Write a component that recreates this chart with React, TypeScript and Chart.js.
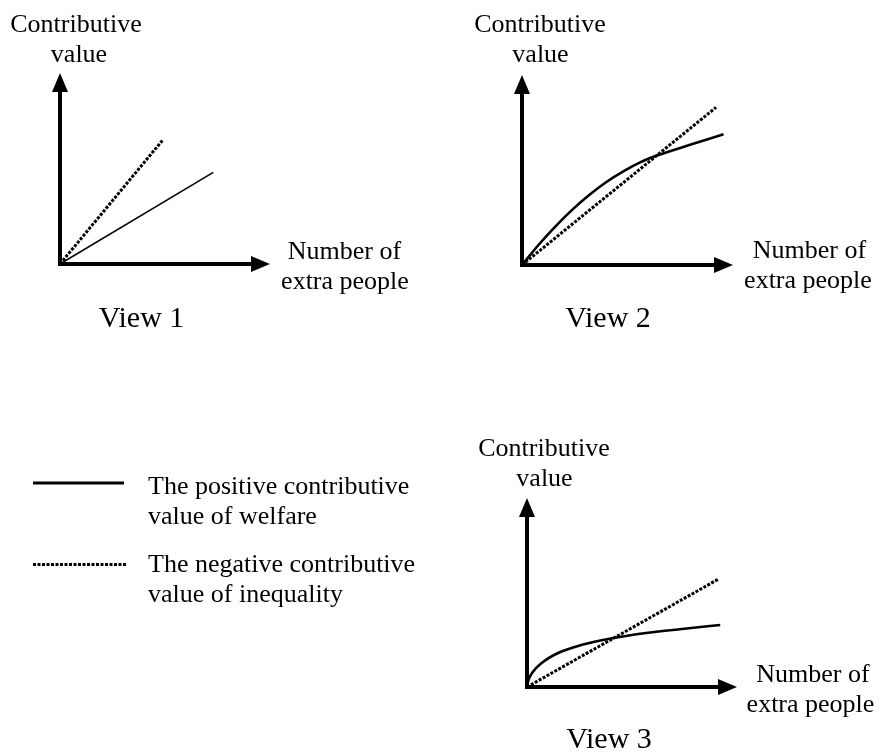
import React, { useEffect, useRef } from "react";
import { Chart, registerables } from "chart.js";

Chart.register(...registerables);

const PAGE_W = 880;
const PAGE_H = 754;

// ---- data (each axis runs 0..10 in arbitrary units) ----
const axisMin = 0;
const axisMax = 10;

// View 1
const v1WelfareX = [0, 7.3];
const v1WelfareY = [0, 4.8];
const v1InequalityX = [0, 4.9];
const v1InequalityY = [0, 6.5];

// View 2
const v2WelfareX = [0, 0.8, 1.6, 2.4, 3.2, 4.0, 4.8, 5.6, 6.4, 8.0, 9.55];
const v2WelfareY = [0, 1.08, 2.05, 2.93, 3.7, 4.37, 4.93, 5.4, 5.76, 6.34, 6.88];
const v2InequalityX = [0, 9.2];
const v2InequalityY = [0, 8.3];

// View 3
const v3WelfareX = [0, 0.05, 0.25, 0.7, 1.48, 2.62, 3.86, 5.76, 7.38, 9.2];
const v3WelfareY = [0, 0.3, 0.75, 1.27, 1.8, 2.23, 2.54, 2.87, 3.07, 3.28];
const v3InequalityX = [0, 9.1];
const v3InequalityY = [0, 5.7];

const seriesNames = [
  ["The positive contributive", "value of welfare"],
  ["The negative contributive", "value of inequality"],
];
const viewTitles = ["View 1", "View 2", "View 3"];
const yAxisTitle = ["Contributive", "value"];
const xAxisTitle = ["Number of", "extra people"];

// ---- layout (page pixels) ----
const frames = [
  { ox: 60, oy: 264, tx: 270, ty: 73 },
  { ox: 522, oy: 265, tx: 733, ty: 75 },
  { ox: 527, oy: 687, tx: 737, ty: 498 },
];
const welfareWidths = [1.6, 2.6, 2.6];
const DOT = [3, 1.5];
const FONT = '"Liberation Serif", "Times New Roman", serif';

const toPoints = (xs: number[], ys: number[]) => xs.map((x, i) => ({ x, y: ys[i] }));

const viewData = [
  { welfare: toPoints(v1WelfareX, v1WelfareY), inequality: toPoints(v1InequalityX, v1InequalityY) },
  { welfare: toPoints(v2WelfareX, v2WelfareY), inequality: toPoints(v2InequalityX, v2InequalityY) },
  { welfare: toPoints(v3WelfareX, v3WelfareY), inequality: toPoints(v3InequalityX, v3InequalityY) },
];

const arrowAxes = {
  id: "arrowAxes",
  afterDatasetsDraw(chart: any) {
    const { ctx, chartArea } = chart;
    const { left, right, top, bottom } = chartArea;
    const head = 19;
    const half = 8;
    ctx.save();
    ctx.strokeStyle = "#000";
    ctx.fillStyle = "#000";
    ctx.lineWidth = 4;
    ctx.lineJoin = "miter";
    ctx.lineCap = "butt";
    ctx.setLineDash([]);
    ctx.beginPath();
    ctx.moveTo(left, top + head - 1);
    ctx.lineTo(left, bottom);
    ctx.lineTo(right - head + 1, bottom);
    ctx.stroke();
    ctx.beginPath();
    ctx.moveTo(left, top);
    ctx.lineTo(left - half, top + head);
    ctx.lineTo(left + half, top + head);
    ctx.closePath();
    ctx.fill();
    ctx.beginPath();
    ctx.moveTo(right, bottom);
    ctx.lineTo(right - head, bottom - half);
    ctx.lineTo(right - head, bottom + half);
    ctx.closePath();
    ctx.fill();
    ctx.restore();
  },
};

const legendSamples = {
  id: "legendSamples",
  afterDraw(chart: any, _args: any, opts: any) {
    if (!opts || !opts.items) return;
    const ctx = chart.ctx;
    opts.items.forEach((item: any) => {
      const ds = chart.data.datasets[item.index];
      ctx.save();
      ctx.strokeStyle = ds.borderColor;
      ctx.lineWidth = 3;
      ctx.lineCap = "butt";
      ctx.setLineDash(ds.borderDash || []);
      ctx.beginPath();
      ctx.moveTo(item.x0, item.y);
      ctx.lineTo(item.x1, item.y);
      ctx.stroke();
      ctx.restore();
    });
  },
};

type Label = { text: string; x: number; base: number; size: number; align: "center" | "left" };

const labels: Label[] = [];
const addLabels = () => {
  const yT = [
    { c: [76, 79], b: 33 },
    { c: [540, 540.5], b: 33 },
    { c: [544, 544.5], b: 457 },
  ];
  const xT = [
    { c: [344.5, 345], b: 260 },
    { c: [809.5, 808], b: 259 },
    { c: [813, 810.5], b: 683 },
  ];
  const vT = [
    { c: 141.5, b: 327 },
    { c: 608, b: 327 },
    { c: 609, b: 748 },
  ];
  for (let i = 0; i < 3; i++) {
    yAxisTitle.forEach((t, k) => labels.push({ text: t, x: yT[i].c[k], base: yT[i].b + 30 * k, size: 26, align: "center" }));
    xAxisTitle.forEach((t, k) => labels.push({ text: t, x: xT[i].c[k], base: xT[i].b + 30 * k, size: 26, align: "center" }));
    labels.push({ text: viewTitles[i], x: vT[i].c, base: vT[i].b, size: 30, align: "center" });
  }
  const legBase = [495, 573];
  seriesNames.forEach((lines, s) =>
    lines.forEach((t, k) => labels.push({ text: t, x: 148, base: legBase[s] + 30 * k, size: 26, align: "left" }))
  );
};
addLabels();

export default function App() {
  const refs = [useRef<HTMLCanvasElement>(null), useRef<HTMLCanvasElement>(null), useRef<HTMLCanvasElement>(null)];

  useEffect(() => {
    document.body.style.margin = "0";
    const charts: Chart[] = [];
    frames.forEach((f, i) => {
      const canvas = refs[i].current;
      if (!canvas) return;
      const chart = new Chart(canvas, {
        type: "line",
        data: {
          datasets: [
            {
              label: seriesNames[0].join(" "),
              data: viewData[i].welfare,
              borderColor: "#000",
              borderWidth: welfareWidths[i],
              pointRadius: 0,
              cubicInterpolationMode: "monotone",
              fill: false,
            },
            {
              label: seriesNames[1].join(" "),
              data: viewData[i].inequality,
              borderColor: "#000",
              borderWidth: 3,
              borderDash: DOT,
              pointRadius: 0,
              fill: false,
            },
          ],
        },
        options: {
          animation: false,
          responsive: false,
          devicePixelRatio: 1,
          events: [],
          layout: {
            padding: { left: f.ox, top: f.ty, right: PAGE_W - f.tx, bottom: PAGE_H - f.oy },
          },
          scales: {
            x: { type: "linear", min: axisMin, max: axisMax, display: false },
            y: { type: "linear", min: axisMin, max: axisMax, display: false },
          },
          plugins: {
            legend: { display: false },
            tooltip: { enabled: false },
            legendSamples:
              i === 0
                ? {
                    items: [
                      { index: 0, x0: 33, x1: 124, y: 483 },
                      { index: 1, x0: 33, x1: 126, y: 564.5 },
                    ],
                  }
                : undefined,
          } as any,
        },
        plugins: [arrowAxes, legendSamples],
      });
      charts.push(chart);
    });
    return () => charts.forEach((c) => c.destroy());
  }, []);

  return (
    <div style={{ position: "relative", width: PAGE_W, height: PAGE_H, background: "#fff", overflow: "hidden" }}>
      {refs.map((r, i) => (
        <canvas
          key={i}
          ref={r}
          width={PAGE_W}
          height={PAGE_H}
          style={{ position: "absolute", left: 0, top: 0, width: PAGE_W, height: PAGE_H }}
        />
      ))}
      {labels.map((l, i) => {
        const top = l.base - 0.8375 * l.size;
        const common: React.CSSProperties = {
          position: "absolute",
          top,
          fontFamily: FONT,
          fontSize: l.size,
          lineHeight: `${l.size}px`,
          whiteSpace: "nowrap",
          color: "#000",
        };
        return l.align === "center" ? (
          <div key={i} style={{ ...common, left: l.x - 200, width: 400, textAlign: "center" }}>
            {l.text}
          </div>
        ) : (
          <div key={i} style={{ ...common, left: l.x }}>
            {l.text}
          </div>
        );
      })}
    </div>
  );
}
